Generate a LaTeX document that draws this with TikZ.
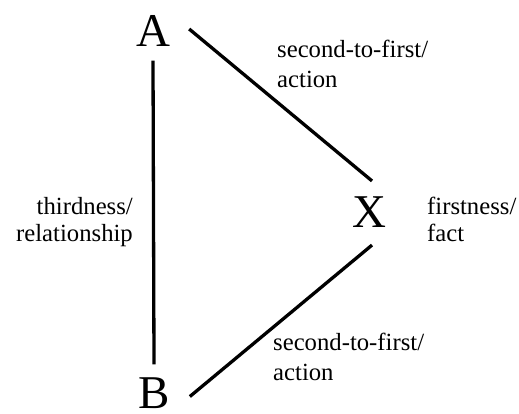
\documentclass[tikz,border=0pt]{standalone}
\usepackage{fontspec}
\setmainfont{Liberation Serif}
\begin{document}
\begin{tikzpicture}[x=1pt,y=-1pt,
  vert/.style={inner sep=0pt,font=\fontsize{47}{50}\selectfont},
  lbl/.style={inner sep=0pt,font=\fontsize{24.7}{29.5}\selectfont},
  edge/.style={line width=3.3pt}]
\useasboundingbox (0,0) rectangle (519,413);
\node[vert] (A) at (153,31) {A};
\node[vert] (B) at (154,393.5) {B};
\node[vert] (X) at (369,212.5) {X};
\node[lbl,anchor=north west,align=left] (t1) at (277,40) {second-to-first/\\action};
\node[lbl,anchor=north west,align=left] (t2) at (273,333) {second-to-first/\\action};
\node[lbl,anchor=north east,align=right,font=\fontsize{24.7}{27}\selectfont] (t3) at (133,197) {thirdness/\\relationship};
\node[lbl,anchor=north west,align=left,font=\fontsize{24.7}{27}\selectfont] (t4) at (427,197) {firstness/\\fact};
\draw[edge] ([yshift=-14pt]A.south) -- ([yshift=13.5pt]B.north);
\draw[edge] ([xshift=20pt,yshift=-3pt]B.east) -- ([xshift=3pt,yshift=-17pt]X.south);
\draw[edge] ([xshift=19pt,yshift=2pt]A.east) -- ([xshift=3pt,yshift=16pt]X.north);
\end{tikzpicture}
\end{document}
